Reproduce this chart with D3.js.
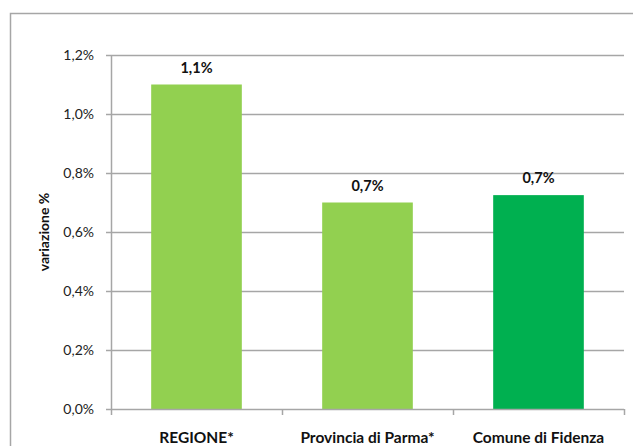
<!DOCTYPE html>
<html>
<head>
<meta charset="utf-8">
<script src="https://cdn.jsdelivr.net/npm/d3@7"></script>
<style>
  body { margin: 0; background: #fff; }
  text { font-family: Lato, "Open Sans", sans-serif; }
</style>
</head>
<body>
<div id="chart"></div>
<script>
// dati
var categorie = ["REGIONE*", "Provincia di Parma*", "Comune di Fidenza"];
var valori = [1.10, 0.70, 0.725];
var etichette = ["1,1%", "0,7%", "0,7%"];
var colori = ["#92D050", "#92D050", "#00B050"];
var yTicks = [0, 0.2, 0.4, 0.6, 0.8, 1.0, 1.2];

var W = 633, H = 446;
var margin = {top: 55, right: 9, bottom: 37, left: 111},
    width = W - margin.left - margin.right,
    height = H - margin.top - margin.bottom;

var svg = d3.select("#chart")
    .append("svg")
    .attr("width", W)
    .attr("height", H);

// cornice esterna
svg.append("rect")
    .attr("x", 10.5)
    .attr("y", 13.5)
    .attr("width", W)
    .attr("height", H)
    .attr("fill", "none")
    .attr("stroke", "#a6a6a6")
    .attr("stroke-width", 1.5);

var plot = svg.append("g")
    .attr("transform", "translate(" + margin.left + "," + margin.top + ")");

var x = d3.scaleBand()
    .domain(categorie)
    .range([0, width])
    .paddingInner(0.47)
    .paddingOuter(0.235);

var xTick = d3.scaleBand()
    .domain(categorie)
    .range([0, width]);

var y = d3.scaleLinear()
    .domain([0, 1.2])
    .range([height, 0]);

var fmt = function(d) { return d3.format(".1f")(d).replace(".", ",") + "%"; };

// griglia
plot.selectAll(".grid")
    .data(yTicks.slice(1))
    .enter()
    .append("line")
    .attr("x1", 0)
    .attr("x2", width)
    .attr("y1", function(d) { return Math.round(y(d)) + 0.5; })
    .attr("y2", function(d) { return Math.round(y(d)) + 0.5; })
    .attr("stroke", "#a6a6a6")
    .attr("stroke-width", 1.5);

// asse y
var yAxis = plot.append("g")
    .call(d3.axisLeft(y).tickValues(yTicks).tickFormat(fmt).tickSize(5).tickPadding(12));
yAxis.select(".domain").attr("stroke", "#a6a6a6").attr("stroke-width", 1.5).attr("d", "M0.5," + height + "V0");
yAxis.selectAll(".tick line").attr("stroke", "#a6a6a6").attr("stroke-width", 1.5);
yAxis.selectAll(".tick text")
    .attr("fill", "#222")
    .style("font-size", "14px")
    .style("font-family", "Lato, sans-serif");

// barre
plot.selectAll(".bar")
    .data(valori)
    .enter()
    .append("rect")
    .attr("x", function(d, i) { return x(categorie[i]); })
    .attr("y", function(d) { return y(d); })
    .attr("width", x.bandwidth())
    .attr("height", function(d) { return height - y(d); })
    .style("fill", function(d, i) { return colori[i]; });

// asse x
plot.append("line")
    .attr("x1", 0)
    .attr("x2", width)
    .attr("y1", height + 0.5)
    .attr("y2", height + 0.5)
    .attr("stroke", "#a6a6a6")
    .attr("stroke-width", 1.5);

var bordi = categorie.map(function(c) { return xTick(c); }).concat([width]);
plot.selectAll(".xtick")
    .data(bordi)
    .enter()
    .append("line")
    .attr("x1", function(d) { return d + 0.5; })
    .attr("x2", function(d) { return d + 0.5; })
    .attr("y1", height)
    .attr("y2", height + 6)
    .attr("stroke", "#a6a6a6")
    .attr("stroke-width", 1.5);

plot.selectAll(".xlab")
    .data(categorie)
    .enter()
    .append("text")
    .attr("x", function(d) { return xTick(d) + xTick.bandwidth() / 2; })
    .attr("y", height + 34)
    .attr("text-anchor", "middle")
    .style("font-size", "15.5px")
    .style("font-weight", "bold")
    .attr("fill", "#111")
    .text(function(d) { return d; });

// etichette valori
plot.selectAll(".vlab")
    .data(valori)
    .enter()
    .append("text")
    .attr("x", function(d, i) { return x(categorie[i]) + x.bandwidth() / 2; })
    .attr("y", function(d) { return y(d) - 12; })
    .attr("text-anchor", "middle")
    .style("font-size", "14.5px")
    .style("font-weight", "bold")
    .attr("fill", "#111")
    .text(function(d, i) { return etichette[i]; });

// titolo asse y
svg.append("text")
    .attr("transform", "translate(49," + (margin.top + height / 2) + ") rotate(-90)")
    .attr("text-anchor", "middle")
    .style("font-size", "14px")
    .style("font-weight", "bold")
    .attr("fill", "#111")
    .text("variazione %");
</script>
</body>
</html>
